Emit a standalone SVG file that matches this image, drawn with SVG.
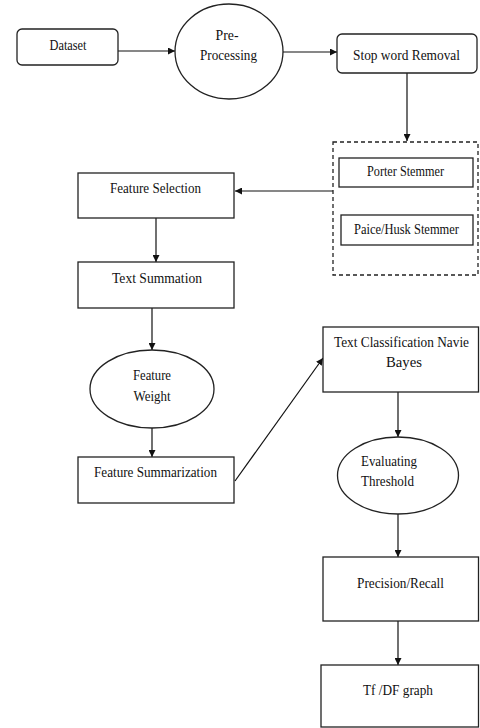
<svg xmlns="http://www.w3.org/2000/svg" width="480" height="728" viewBox="0 0 480 728">
<defs>
<marker id="ah" viewBox="0 0 10 10" refX="10" refY="5" markerWidth="7" markerHeight="7" markerUnits="userSpaceOnUse" orient="auto">
<path d="M0,0 L10,5 L0,10 z" fill="#111"/>
</marker>
<style>
.box{fill:#fff;stroke:#222;stroke-width:1.3}
.dash{fill:none;stroke:#222;stroke-width:1.3;stroke-dasharray:4,3}
.t{font-family:"Liberation Serif","Times New Roman",serif;font-size:15px;fill:#111;text-anchor:middle}
.c{fill:none;stroke:#111;stroke-width:1.2;marker-end:url(#ah)}
</style>
</defs>
<rect width="480" height="728" fill="#fff"/>
<g id="connectors">
<line class="c" x1="118" y1="51" x2="175" y2="51"/>
<line class="c" x1="283" y1="52" x2="337" y2="52"/>
<line class="c" x1="407" y1="73" x2="407" y2="141"/>
<line class="c" x1="333" y1="191" x2="235" y2="191"/>
<line class="c" x1="156" y1="218" x2="156" y2="262"/>
<line class="c" x1="152" y1="308" x2="152" y2="350"/>
<line class="c" x1="152" y1="428" x2="152" y2="457"/>
<line class="c" x1="235" y1="481" x2="323" y2="358"/>
<line class="c" x1="398" y1="392" x2="398" y2="437"/>
<line class="c" x1="398" y1="514" x2="398" y2="557"/>
<line class="c" x1="398" y1="621" x2="398" y2="665"/>
</g>
<g id="dataset">
<rect class="box" x="17" y="29" width="101" height="36" rx="5"/>
<text class="t" x="68" y="50" textLength="37" lengthAdjust="spacingAndGlyphs">Dataset</text>
</g>
<g id="preprocessing">
<ellipse class="box" cx="229" cy="51.5" rx="54" ry="47.5"/>
<text class="t" x="227" y="40" textLength="23" lengthAdjust="spacingAndGlyphs">Pre-</text>
<text class="t" x="228.5" y="60" textLength="57" lengthAdjust="spacingAndGlyphs">Processing</text>
</g>
<g id="stopword">
<rect class="box" x="337" y="34" width="140" height="39" rx="5"/>
<text class="t" x="406.5" y="60" style="font-size:15.5px" textLength="107" lengthAdjust="spacingAndGlyphs">Stop word Removal</text>
</g>
<g id="stemmers">
<rect class="dash" x="333" y="142" width="145" height="133"/>
<g id="porter">
<rect class="box" x="339" y="158" width="134" height="29"/>
<text class="t" x="405.5" y="176" textLength="77" lengthAdjust="spacingAndGlyphs">Porter Stemmer</text>
</g>
<g id="paice">
<rect class="box" x="341" y="215" width="132" height="30"/>
<text class="t" x="406.5" y="234" textLength="105" lengthAdjust="spacingAndGlyphs">Paice/Husk Stemmer</text>
</g>
</g>
<g id="featureselection">
<rect class="box" x="78" y="173" width="156" height="45"/>
<text class="t" x="155.5" y="193" textLength="91" lengthAdjust="spacingAndGlyphs">Feature Selection</text>
</g>
<g id="textsummation">
<rect class="box" x="78" y="262" width="156" height="46"/>
<text class="t" x="157" y="283" textLength="90" lengthAdjust="spacingAndGlyphs">Text Summation</text>
</g>
<g id="featureweight">
<ellipse class="box" cx="152" cy="389" rx="62" ry="39"/>
<text class="t" x="152" y="380" textLength="38" lengthAdjust="spacingAndGlyphs">Feature</text>
<text class="t" x="152" y="401" textLength="37" lengthAdjust="spacingAndGlyphs">Weight</text>
</g>
<g id="featuresummarization">
<rect class="box" x="78" y="457" width="156" height="46"/>
<text class="t" x="155.5" y="477" textLength="123" lengthAdjust="spacingAndGlyphs">Feature Summarization</text>
</g>
<g id="textclassification">
<rect class="box" x="323" y="327" width="155.5" height="65"/>
<text class="t" x="401.5" y="347" style="font-size:14px" textLength="135" lengthAdjust="spacingAndGlyphs">Text Classification Navie</text>
<text class="t" x="404" y="367" textLength="36" lengthAdjust="spacingAndGlyphs">Bayes</text>
</g>
<g id="evaluating">
<ellipse class="box" cx="398" cy="475.5" rx="60.5" ry="38.5"/>
<text class="t" x="361" y="466" style="text-anchor:start" textLength="56" lengthAdjust="spacingAndGlyphs">Evaluating</text>
<text class="t" x="361" y="486" style="text-anchor:start" textLength="53" lengthAdjust="spacingAndGlyphs">Threshold</text>
</g>
<g id="precisionrecall">
<rect class="box" x="323" y="557" width="155.5" height="64"/>
<text class="t" x="400.5" y="588" textLength="87" lengthAdjust="spacingAndGlyphs">Precision/Recall</text>
</g>
<g id="tfdf">
<rect class="box" x="321" y="665" width="157.5" height="62"/>
<text class="t" x="398" y="695" textLength="70" lengthAdjust="spacingAndGlyphs">Tf /DF graph</text>
</g>
</svg>
